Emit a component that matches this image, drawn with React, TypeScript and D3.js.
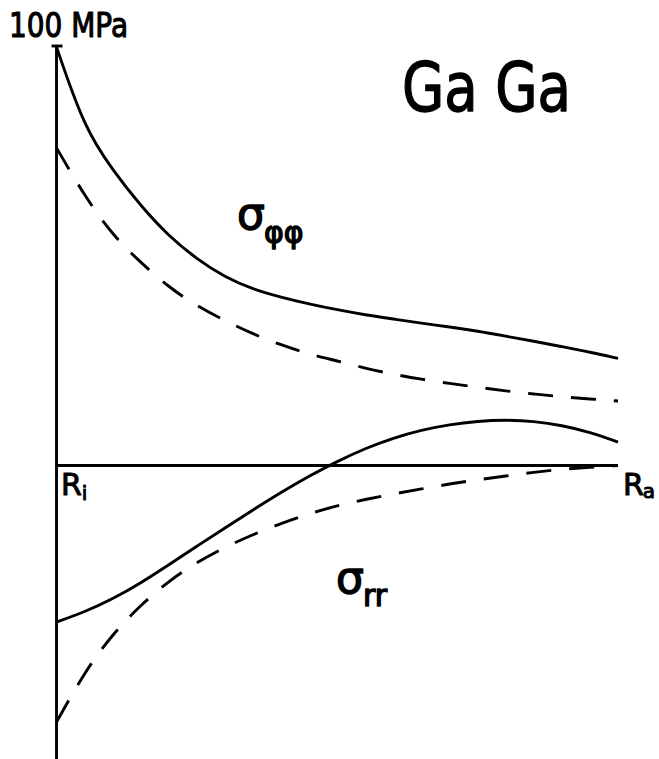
import React from "react";
import * as d3 from "d3";

// Normalised radius from the inner wall R_i (0) to the outer wall R_a (1)
const radius = [0, 0.05, 0.1, 0.15, 0.2, 0.25, 0.3, 0.35, 0.4, 0.45, 0.5, 0.55, 0.6, 0.65, 0.7, 0.75, 0.8, 0.85, 0.9, 0.95, 1];

// Hoop stress σφφ in MPa (solid and dashed case)
const sigmaPhiSolid = [100, 80.5, 70.6, 62.0, 54.8, 49.3, 45.0, 42.1, 40.2, 38.6, 37.2, 36.0, 35.0, 34.0, 33.1, 32.1, 30.9, 29.7, 28.4, 27.1, 25.6];
const sigmaPhiDashed = [75.9, 64.4, 55.0, 48.5, 42.6, 38.1, 34.6, 31.4, 28.8, 26.6, 25.0, 23.2, 21.8, 20.6, 19.6, 18.7, 17.8, 17.1, 16.4, 15.9, 15.4];

// Radial stress σrr in MPa (solid and dashed case)
const sigmaRRSolid = [-37.4, -35.0, -31.9, -28.1, -23.7, -19.3, -14.9, -10.6, -6.4, -2.5, 1.0, 4.1, 6.6, 8.5, 9.8, 10.6, 10.9, 10.6, 9.6, 8.0, 5.6];
const sigmaRRDashed = [-61.3, -49.3, -40.3, -33.3, -27.6, -23.1, -19.5, -16.5, -13.8, -11.5, -9.6, -8.1, -6.8, -5.6, -4.4, -3.4, -2.5, -1.6, -0.9, -0.4, 0];

const yTopValue = 100;
const yTopLabel = "100 MPa";

const W = 659;
const H = 759;
const FONT = "'DejaVu Sans', sans-serif";

export default function App() {
  const x = d3.scaleLinear().domain([0, 1]).range([56.5, 618]);
  const y = d3.scaleLinear().domain([0, yTopValue]).range([465.5, 47]);

  // smooth curves through the sampled stresses
  const line = (vals: number[]) =>
    d3
      .line<number>()
      .x((_, i) => x(radius[i]))
      .y((v) => y(v))
      .curve(d3.curveBasis)(vals) as string;

  const stroke = "#000";
  const sw = 2.9;
  const dash = "25 18";

  const txt = { fill: "#000", stroke: "#000", strokeLinejoin: "round" as const };

  return (
    <svg
      width={W}
      height={H}
      viewBox={`0 0 ${W} ${H}`}
      style={{ position: "absolute", left: 0, top: 0, display: "block", background: "#fff" }}
    >
      <rect width={W} height={H} fill="#fff" />

      {/* axes */}
      <line x1={x(0)} x2={x(0)} y1={y(yTopValue) - 1} y2={H} stroke={stroke} strokeWidth={sw} />
      <line x1={x(0) - 5} x2={x(0) + 6} y1={y(yTopValue) - 1} y2={y(yTopValue) - 1} stroke={stroke} strokeWidth={sw} />
      <line x1={x(0)} x2={x(1)} y1={y(0)} y2={y(0)} stroke={stroke} strokeWidth={sw} />

      {/* stress curves */}
      <path d={line(sigmaPhiSolid)} fill="none" stroke={stroke} strokeWidth={sw} />
      <path d={line(sigmaPhiDashed)} fill="none" stroke={stroke} strokeWidth={sw} strokeDasharray={dash} />
      <path d={line(sigmaRRSolid)} fill="none" stroke={stroke} strokeWidth={sw} />
      <path d={line(sigmaRRDashed)} fill="none" stroke={stroke} strokeWidth={sw} strokeDasharray={dash} />

      {/* labels */}
      <g fontFamily={FONT}>
        <text x={9} y={37} fontSize={34} textLength={119} lengthAdjust="spacingAndGlyphs" {...txt} strokeWidth={1.2}>
          {yTopLabel}
        </text>
        <text x={402} y={111} fontSize={68} textLength={169} lengthAdjust="spacingAndGlyphs" {...txt} strokeWidth={1.4}>
          Ga Ga
        </text>

        <text x={237} y={229} {...txt} strokeWidth={1.4}>
          <tspan fontSize={44}>σ</tspan>
          <tspan fontSize={30} dy={14} dx={-1}>φφ</tspan>
        </text>

        <text x={336} y={593} {...txt} strokeWidth={1.4}>
          <tspan fontSize={44}>σ</tspan>
          <tspan fontSize={30} dy={13} dx={-1}>rr</tspan>
        </text>

        <text x={61} y={495} {...txt} strokeWidth={1}>
          <tspan fontSize={30}>R</tspan>
          <tspan fontSize={20} dy={5} dx={0}>i</tspan>
        </text>

        <text x={623} y={495} {...txt} strokeWidth={1}>
          <tspan fontSize={30}>R</tspan>
          <tspan fontSize={20} dy={3} dx={-1}>a</tspan>
        </text>
      </g>
    </svg>
  );
}
